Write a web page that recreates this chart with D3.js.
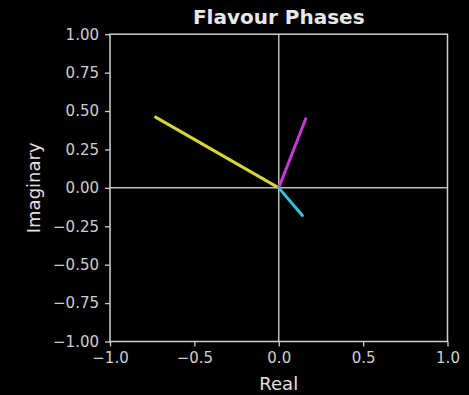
<!DOCTYPE html>
<html><head><meta charset="utf-8">
<script src="https://cdn.jsdelivr.net/npm/d3@7"></script>
<style>html,body{margin:0;padding:0;background:#000;}svg{display:block;}</style>
</head><body>
<script>
const names = ["Flavour 1", "Flavour 2", "Flavour 3"];
const reVals = [-0.73, 0.16, 0.14];
const imVals = [0.46, 0.45, -0.18];
const colors = ["#d6d63a", "#c43ad0", "#30c4d4"];
const xTicks = [-1.0, -0.5, 0.0, 0.5, 1.0];
const yTicks = [-1.0, -0.75, -0.5, -0.25, 0.0, 0.25, 0.5, 0.75, 1.0];

const W = 469, H = 395;
const m = {left: 110, right: 21.5, top: 34.2, bottom: 53.5};
const svg = d3.select("body").append("svg").attr("width", W).attr("height", H)
  .style("background", "#000");

const x = d3.scaleLinear().domain([-1, 1]).range([m.left, W - m.right]);
const y = d3.scaleLinear().domain([-1, 1]).range([H - m.bottom, m.top]);
const fg = "#cfcfcf";
const font = "DejaVu Sans, sans-serif";

// zero lines
svg.append("line").attr("x1", x(0)).attr("x2", x(0)).attr("y1", y(-1)).attr("y2", y(1))
  .attr("stroke", "#bdbdbd").attr("stroke-width", 1.5);
svg.append("line").attr("x1", x(-1)).attr("x2", x(1)).attr("y1", y(0)).attr("y2", y(0))
  .attr("stroke", "#bdbdbd").attr("stroke-width", 1.5);

// vectors
svg.selectAll("line.vec").data(names).enter().append("line").attr("class", "vec")
  .attr("x1", x(0)).attr("y1", y(0))
  .attr("x2", (d, i) => x(reVals[i])).attr("y2", (d, i) => y(imVals[i]))
  .attr("stroke", (d, i) => colors[i]).attr("stroke-width", 3).attr("stroke-linecap", "round");

// axes
const xAxis = d3.axisBottom(x).tickValues(xTicks).tickFormat(d => d3.format(".1f")(d).replace("-", "\u2212"))
  .tickSize(5).tickPadding(6);
const yAxis = d3.axisLeft(y).tickValues(yTicks).tickFormat(d => d3.format(".2f")(d).replace("-", "\u2212"))
  .tickSize(5).tickPadding(6);
const gx = svg.append("g").attr("transform", `translate(0,${y(-1)})`).call(xAxis);
const gy = svg.append("g").attr("transform", `translate(${x(-1)},0)`).call(yAxis);
[gx, gy].forEach(g => {
  g.select(".domain").remove();
  g.selectAll(".tick line").attr("stroke", fg).attr("stroke-width", 1.3);
  g.selectAll(".tick text").attr("fill", fg).style("font-family", font).style("font-size", "15px");
});

// frame
svg.append("rect").attr("x", x(-1)).attr("y", y(1)).attr("width", x(1) - x(-1)).attr("height", y(-1) - y(1))
  .attr("fill", "none").attr("stroke", fg).attr("stroke-width", 1.5);

// title & labels
svg.append("text").attr("x", (x(-1) + x(1)) / 2).attr("y", 24).attr("text-anchor", "middle")
  .attr("fill", "#e8e8e8").style("font-family", font).style("font-weight", "bold").style("font-size", "20px")
  .text("Flavour Phases");
svg.append("text").attr("x", (x(-1) + x(1)) / 2).attr("y", 390).attr("text-anchor", "middle")
  .attr("fill", "#e0e0e0").style("font-family", font).style("font-size", "18px").text("Real");
svg.append("text").attr("transform", `translate(40,${(y(-1) + y(1)) / 2}) rotate(-90)`).attr("text-anchor", "middle")
  .attr("fill", "#e0e0e0").style("font-family", font).style("font-size", "18px").text("Imaginary");
</script>
</body></html>
